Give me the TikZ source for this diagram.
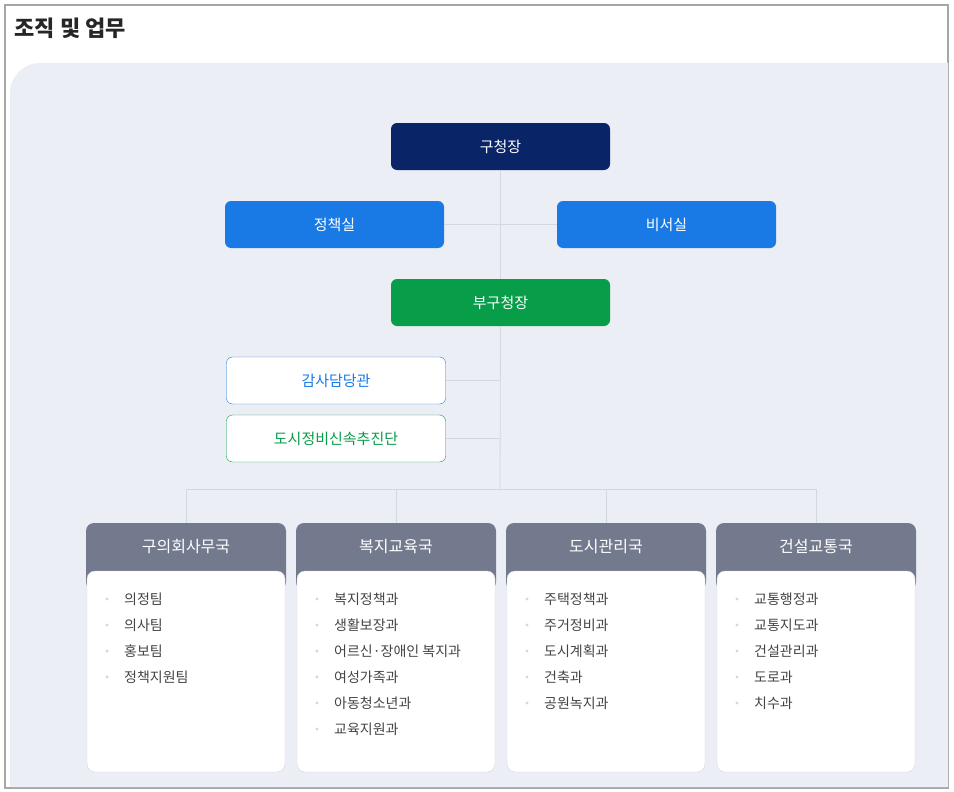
\documentclass[tikz,border=0pt]{standalone}
\usepackage{fontspec}
\setmainfont{Noto Sans CJK KR}
\newfontfamily\krb{Noto Sans CJK KR Bold}
\definecolor{navy}{HTML}{0A2468}
\definecolor{bblue}{HTML}{1A7AE5}
\definecolor{ggreen}{HTML}{079D49}
\definecolor{panel}{HTML}{EBEEF5}
\definecolor{hdr}{HTML}{737A8D}
\definecolor{lnc}{HTML}{D3D7E0}
\definecolor{txt}{HTML}{444444}
\begin{document}
\begin{tikzpicture}[x=1pt,y=-1pt,
  box/.style={rounded corners=6pt,minimum width=219pt,minimum height=47pt,inner sep=0pt,font=\fontsize{15}{18}\selectfont},
  fillbox/.style={box,fill=#1,text=white},
  linebox/.style={box,draw=#1,fill=white,text=#1},
  ln/.style={draw=lnc,line width=0.8pt},
  item/.style={anchor=west,font=\fontsize{14}{16}\selectfont,text=txt,inner sep=0pt}]
\useasboundingbox (0,0) rectangle (954,792);
\fill[white] (0,0) rectangle (954,792);
\draw[gray!70,line width=1.5pt] (5,5) rectangle (948,788);
\node[anchor=west,font=\fontsize{22}{26}\selectfont\bfseries,text=black!85] (title) at (11,28) {조직 및 업무};
\fill[panel] (948,63) -- (40,63) arc[start angle=270,end angle=180,radius=30] -- (10,787) -- (948,787) -- cycle;
\node[fillbox=navy] (ceo) at (500.5,146.5) {구청장};
\node[fillbox=bblue] (pol) at (334.5,224.5) {정책실};
\node[fillbox=bblue] (sec) at (666.5,224.5) {비서실};
\node[fillbox=ggreen] (dep) at (500.5,302.5) {부구청장};
\node[linebox=bblue] (aud) at (336,380.5) {감사담당관};
\node[linebox=ggreen] (urb) at (336,438.5) {도시정비신속추진단};
\coordinate (j) at (500,489);
\draw[ln] (ceo.south) -- (dep.north);
\draw[ln] (pol.east) -- (sec.west);
\draw[ln] (dep.south) -- (j);
\draw[ln] (aud.east) -- (aud.east -| j);
\draw[ln] (urb.east) -- (urb.east -| j);
\draw[ln] (186,489) -- (816,489);
\foreach \x/\n/\h/\list in {
 86/d1/구의회사무국/{의정팀,의사팀,홍보팀,정책지원팀},
 296/d2/복지교육국/{복지정책과,생활보장과,어르신·장애인 복지과,여성가족과,아동청소년과,교육지원과},
 506/d3/도시관리국/{주택정책과,주거정비과,도시계획과,건축과,공원녹지과},
 716/d4/건설교통국/{교통행정과,교통지도과,건설관리과,도로과,치수과}}{
  \fill[hdr,rounded corners=8pt] (\x,523) rectangle (\x+200,590);
  \node[text=white,font=\fontsize{16}{19}\selectfont] (\n) at (\x+100,547) {\h};
  \draw[lnc,fill=white,rounded corners=8pt] (\x+1,571) rectangle (\x+199,772);
  \draw[ln] (\x+100,489) -- (\x+100,523);
  \foreach \t [count=\i] in \list {
    \fill[lnc] (\x+21,573+26*\i) circle (1.6pt);
    \node[item] (\n-\i) at (\x+38,573+26*\i) {\t};
  }
}
\end{tikzpicture}
\end{document}
